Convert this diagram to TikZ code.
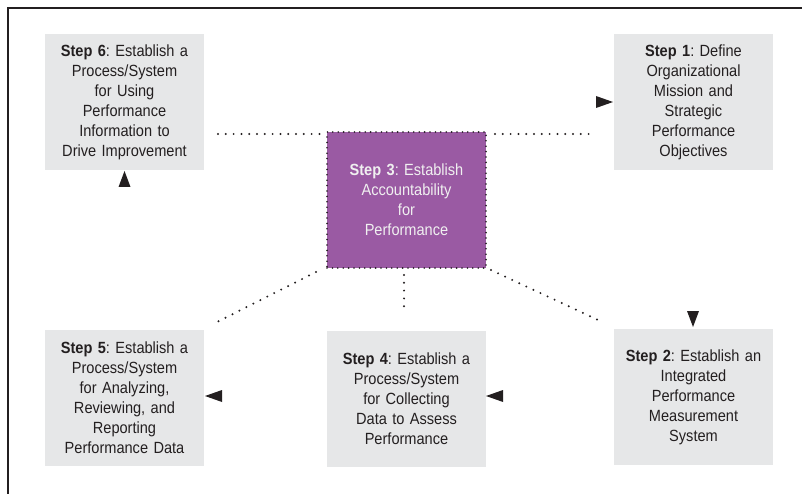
\documentclass[tikz,border=0pt]{standalone}
\usepackage{fontspec}
\setmainfont[FakeStretch=0.9]{Liberation Sans}
\definecolor{boxgray}{HTML}{E6E7E8}
\definecolor{stepPurple}{HTML}{9A5AA3}
\definecolor{inkgray}{HTML}{231F20}
\begin{document}
\begin{tikzpicture}[x=1pt,y=-1pt,
  stepbox/.style={fill=boxgray, text=inkgray, minimum width=159pt, minimum height=136pt,
    inner sep=0pt, text width=155pt, align=center, font=\frenchspacing\fontsize{16.2}{20}\selectfont},
  centerbox/.style={stepbox, fill=stepPurple, text=white!94!black, draw=inkgray,
    line width=1.8pt, line cap=round, dash pattern=on 0pt off 5.4pt},
  dotline/.style={draw=inkgray, line width=2.2pt, line cap=round, dash pattern=on 0pt off 7.8pt},
  marker/.style={fill=inkgray, draw=none},
  frameline/.style={draw=inkgray, line width=1.3pt}
]
\useasboundingbox (0,0) rectangle (802,494);
% frame
\coordinate (fTR) at (802,8);
\coordinate (fTL) at (8,8);
\coordinate (fBL) at (8,494);
\draw[frameline] (fTR) -- (fTL) -- (fBL);

% boxes
\node[stepbox] (s6) at (124.5,102) {\textbf{Step 6}: Establish a\\Process/System\\for Using\\Performance\\Information to\\Drive Improvement};
\node[stepbox] (s1) at (693.5,102) {\textbf{Step 1}: Define\\Organizational\\Mission and\\Strategic\\Performance\\Objectives};
\node[centerbox] (s3) at (406.5,200) {\textbf{Step 3}: Establish\\Accountability\\for\\Performance};
\node[stepbox] (s5) at (124.5,398) {\textbf{Step 5}: Establish a\\Process/System\\for Analyzing,\\Reviewing, and\\Reporting\\Performance Data};
\node[stepbox] (s4) at (406.5,399) {\textbf{Step 4}: Establish a\\Process/System\\for Collecting\\Data to Assess\\Performance};
\node[stepbox] (s2) at (693.5,397) {\textbf{Step 2}: Establish an\\Integrated\\Performance\\Measurement\\System};

% dotted connectors
\coordinate (hl1) at (218,134); \coordinate (hl2) at (320,134);
\coordinate (hr1) at (495,134); \coordinate (hr2) at (596,134);
\coordinate (dl1) at (316,272); \coordinate (dl2) at (217,322);
\coordinate (vb1) at (404,275); \coordinate (vb2) at (404,313);
\coordinate (dr1) at (491,270); \coordinate (dr2) at (598,320);
\draw[dotline] (hl1) -- (hl2);
\draw[dotline] (hr1) -- (hr2);
\draw[dotline] (dl1) -- (dl2);
\draw[dotline] (vb1) -- (vb2);
\draw[dotline] (dr1) -- (dr2);

% triangle markers
\coordinate (t6) at (124.5,171);
\fill[marker] (t6) -- ++(6,16) -- ++(-12,0) -- cycle;
\coordinate (t1) at (613,102);
\fill[marker] (t1) -- ++(-17,-6) -- ++(0,12) -- cycle;
\coordinate (t2) at (693,327);
\fill[marker] (t2) -- ++(6,-16) -- ++(-12,0) -- cycle;
\coordinate (t5) at (205,396);
\fill[marker] (t5) -- ++(17,-6) -- ++(0,12) -- cycle;
\coordinate (t4) at (486,396);
\fill[marker] (t4) -- ++(17,-6) -- ++(0,12) -- cycle;
\end{tikzpicture}
\end{document}
